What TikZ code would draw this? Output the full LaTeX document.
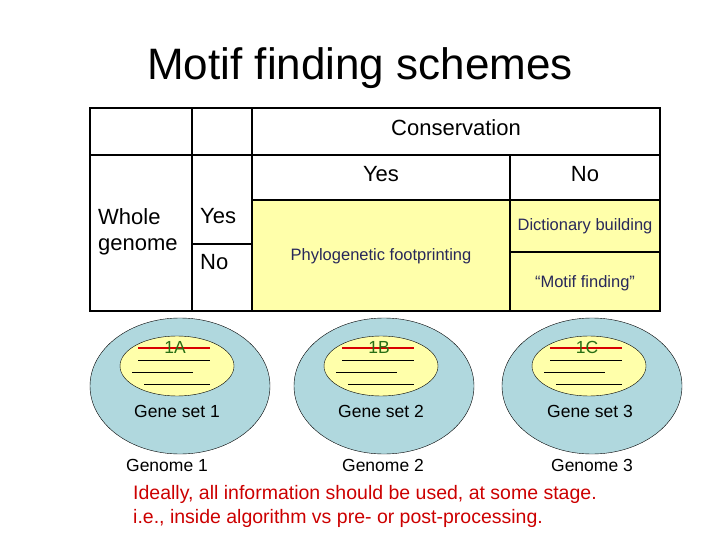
\documentclass[tikz,border=0pt]{standalone}
\usepackage{fontspec}
\setmainfont{Liberation Sans}
\usetikzlibrary{positioning,calc}
\definecolor{cellyellow}{RGB}{255,255,170}
\definecolor{outerblue}{RGB}{176,216,222}
\definecolor{navytext}{RGB}{40,40,90}
\definecolor{greentext}{RGB}{40,110,20}
\tikzset{
  cell/.style={draw=black,line width=1.5pt},
  big/.style={font=\fontsize{22}{26}\selectfont},
  small/.style={font=\fontsize{16.5}{19}\selectfont,text=navytext},
  mid/.style={font=\fontsize{17.5}{20}\selectfont},
  genome/.style={ellipse,draw=black,fill=outerblue},
  geneset/.style={draw=black,fill=cellyellow},
}
\begin{document}
\begin{tikzpicture}[x=1pt,y=-1pt]
  \useasboundingbox (0,0) rectangle (720,540);
  \node (title) at (360,68) {\fontsize{44}{52}\selectfont Motif finding schemes};

  % table
  \fill[cellyellow] (252,200) rectangle (660,311);
  \draw[cell] (90,108) rectangle (660,311);
  \draw[cell] (90,155) -- (660,155);
  \draw[cell] (252,200) -- (660,200);
  \draw[cell] (192,108) -- (192,311);
  \draw[cell] (252,108) -- (252,311);
  \draw[cell] (510,155) -- (510,311);
  \draw[cell] (192,244) -- (252,244);
  \draw[cell] (510,252) -- (660,252);
  \node[big] (cons) at (456,128) {Conservation};
  \node[big] (consyes) at (381,174) {Yes};
  \node[big] (consno) at (585,174) {No};
  \node[big,align=left,anchor=north west,inner sep=0pt] (whole) at (98,208) {Whole\\genome};
  \node[big,anchor=north west,inner sep=0pt] (wgyes) at (200,208) {Yes};
  \node[big,anchor=north west,inner sep=0pt] (wgno) at (200,254) {No};
  \node[small] (phylo) at (381,256) {Phylogenetic footprinting};
  \node[small] (dict) at (585,226) {Dictionary building};
  \node[small] (motif) at (585,283) {``Motif finding''};

  % genomes
  \foreach \cx/\id in {180/1A, 384/1B, 592/1C}{
    \fill[outerblue,draw=black] (\cx,386) ellipse [x radius=90, y radius=68];
    \fill[cellyellow,draw=black] (\cx-3,366) ellipse [x radius=57, y radius=30];
    \draw[red!85!black,line width=2.2pt] (\cx-42,348) -- (\cx+30,348);
    \node[mid,text=greentext] at (\cx-5,347) {\id};
    \draw (\cx-42,360) -- (\cx+30,360);
    \draw (\cx-48,372) -- (\cx+13,372);
    \draw (\cx-36,384) -- (\cx+30,384);
  }
  \node[mid] (gs1) at (177,411) {Gene set 1};
  \node[mid] (gs2) at (381,411) {Gene set 2};
  \node[mid] (gs3) at (590,411) {Gene set 3};
  \node[mid] (g1) at (167,465) {Genome 1};
  \node[mid] (g2) at (383,465) {Genome 2};
  \node[mid] (g3) at (592,465) {Genome 3};

  \node[align=left,anchor=north west,inner sep=0pt,text=red!80!black,font=\fontsize{19.5}{24}\selectfont] (note) at (133,485)
    {Ideally, all information should be used, at some stage.\\i.e., inside algorithm vs pre- or post-processing.};
\end{tikzpicture}
\end{document}
